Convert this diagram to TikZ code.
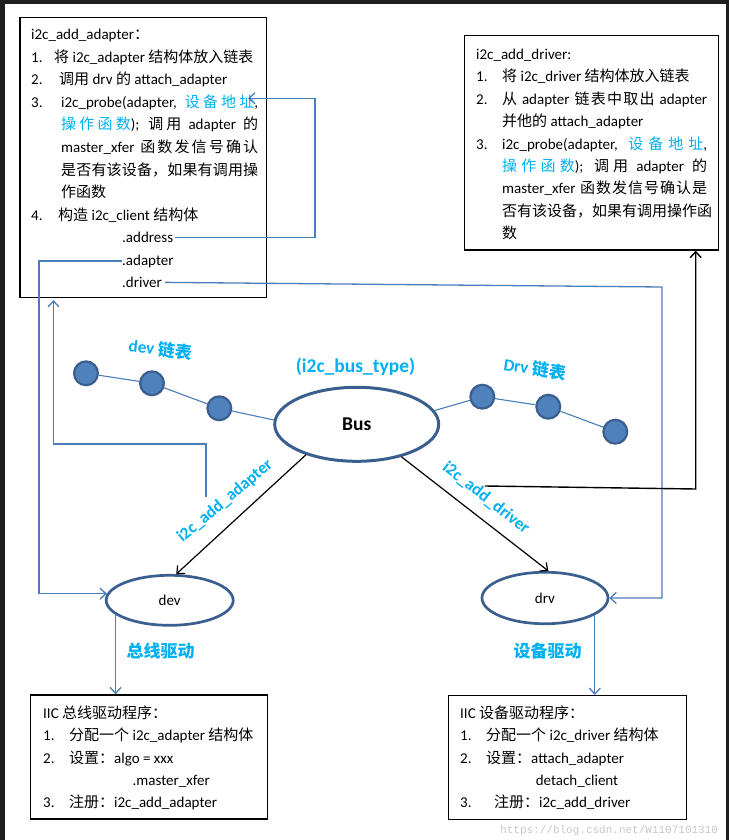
\documentclass[tikz,border=0pt]{standalone}
\usepackage{fontspec}
\setmainfont{Carlito}
\newfontfamily\cjk{Noto Sans CJK SC}
\newfontfamily\wmfont{Liberation Mono}
\usetikzlibrary{shapes.geometric,arrows.meta}
% automatic switch to the CJK font for Chinese characters
\XeTeXinterchartokenstate=1
\newXeTeXintercharclass\cjkc
\makeatletter
\count@="3000 \loop \XeTeXcharclass\count@=\cjkc \ifnum\count@<"303F \advance\count@ 1 \repeat
\count@="4E00 \loop \XeTeXcharclass\count@=\cjkc \ifnum\count@<"9FFF \advance\count@ 1 \repeat
\count@="FF00 \loop \XeTeXcharclass\count@=\cjkc \ifnum\count@<"FFEF \advance\count@ 1 \repeat
\makeatother
\XeTeXinterchartoks 0 \cjkc = {\cjk}
\XeTeXinterchartoks 1 \cjkc = {\cjk}
\XeTeXinterchartoks 2 \cjkc = {\cjk}
\XeTeXinterchartoks 3 \cjkc = {\cjk}
\XeTeXinterchartoks 4095 \cjkc = {\cjk}
\XeTeXinterchartoks \cjkc 0 = {\rmfamily}
\XeTeXinterchartoks \cjkc 1 = {\rmfamily}
\XeTeXinterchartoks \cjkc 2 = {\rmfamily}
\XeTeXinterchartoks \cjkc 3 = {\rmfamily}
\XeTeXinterchartoks \cjkc 4095 = {\rmfamily}
\XeTeXinterchartoks \cjkc \cjkc = {\hskip 0pt plus 0.1em\relax}
\newcommand\nb[2]{\makebox[#1][l]{#2}}
\definecolor{lb}{HTML}{00B0F0}
\definecolor{eline}{HTML}{3A5F8F}
\definecolor{dotf}{HTML}{4F81BD}
\definecolor{cn}{HTML}{4A7EBB}
\definecolor{framec}{HTML}{1F1F21}
\definecolor{wm}{HTML}{C8C8C8}
\tikzset{
 box/.style={draw=black, line width=1.3pt, fill=white, inner sep=0pt},
 ln/.style={anchor=base west, inner sep=0pt, font=\fontsize{15}{18}\selectfont},
 ell/.style={ellipse, draw=eline, fill=white, inner sep=0pt},
 dot/.style={circle, draw=eline, fill=dotf, line width=2.2pt, minimum size=23.8pt, inner sep=0pt},
 lnk/.style={draw=cn, line width=1.1pt},
 lab/.style={text=lb, inner sep=0pt, font=\fontsize{17}{20}\selectfont\bfseries},
 blu/.style={draw=cn, line width=1.3pt, -{Straight Barb[length=6pt,width=11pt]}},
 blk/.style={draw=black, line width=1.2pt, -{Straight Barb[length=6pt,width=11pt]}},
}
\begin{document}
\begin{tikzpicture}[x=1pt,y=-1pt]
\fill[framec] (0,0) rectangle (729,840);
\fill[white] (5,4) rectangle (726,840);
\useasboundingbox (0,0) rectangle (729,840);

% boxes
\node[box, minimum width=246.7pt, minimum height=280.2pt] (ba) at (143.35,157.6) {};
\node[box, minimum width=254.4pt, minimum height=214.3pt] (bd) at (591.5,142.85) {};
\node[box, minimum width=237.1pt, minimum height=124pt] (bl) at (149.25,757) {};
\node[box, minimum width=238.1pt, minimum height=123.6pt] (br) at (567.65,757.5) {};

% top-left box text
\node[ln] (a0) at (31,40) {i2c\_add\_adapter：};
\node[ln] (a1) at (31,62.5) {\nb{23pt}{1.}将 i2c\_adapter 结构体放入链表};
\node[ln] (a2) at (31,85) {\nb{28pt}{2.}调用 drv 的 attach\_adapter};
\node[ln] (a3) at (31,107.5) {\nb{30pt}{3.}\makebox[197pt][s]{i2c\_probe(adapter, \textcolor{lb}{设备地址},}};
\node[ln] (a4) at (61,130) {\makebox[197pt][s]{\textcolor{lb}{操作函数}); 调用 adapter 的}};
\node[ln] (a5) at (61,152.5) {\makebox[197pt][s]{master\_xfer 函数发信号确认}};
\node[ln] (a6) at (61,175) {\makebox[197pt][s]{是否有该设备，如果有调用操}};
\node[ln] (a7) at (61,197.5) {作函数};
\node[ln] (a8) at (31,220) {\nb{27pt}{4.}构造 i2c\_client 结构体};
\node[ln] (addr) at (122,242.5) {.address};
\node[ln] (adap) at (122,265) {.adapter};
\node[ln] (drvf) at (122,287.5) {.driver};

% top-right box text
\node[ln] (r0) at (476,59.5) {i2c\_add\_driver:};
\node[ln] (r1) at (476,81.9) {\nb{26pt}{1.}将 i2c\_driver 结构体放入链表};
\node[ln] (r2) at (476,104.3) {\nb{26pt}{2.}\makebox[205pt][s]{从 adapter 链表中取出 adapter}};
\node[ln] (r3) at (502,126.7) {并他的 attach\_adapter};
\node[ln] (r4) at (476,149.1) {\nb{26pt}{3.}\makebox[205pt][s]{i2c\_probe(adapter, \textcolor{lb}{设备地址},}};
\node[ln] (r5) at (502,171.5) {\makebox[205pt][s]{\textcolor{lb}{操作函数}); 调用 adapter 的}};
\node[ln] (r6) at (502,193.9) {\makebox[205pt][s]{master\_xfer 函数发信号确认是}};
\node[ln] (r7) at (502,216.3) {\makebox[205pt][s]{否有该设备，如果有调用操作函}};
\node[ln] (r8) at (502,238.7) {数};

% bottom-left box text
\node[ln] (p0) at (43,718.5) {IIC 总线驱动程序：};
\node[ln] (p1) at (43,740.8) {\nb{26pt}{1.}分配一个 i2c\_adapter 结构体};
\node[ln] (p2) at (43,763.1) {\nb{26pt}{2.}设置：algo = xxx};
\node[ln] (p3) at (132.5,785.4) {.master\_xfer};
\node[ln] (p4) at (43,807.7) {\nb{26pt}{3.}注册：i2c\_add\_adapter};

% bottom-right box text
\node[ln] (q0) at (460,718.5) {IIC 设备驱动程序：};
\node[ln] (q1) at (460,740.8) {\nb{26pt}{1.}分配一个 i2c\_driver 结构体};
\node[ln] (q2) at (460,763.1) {\nb{26pt}{2.}设置：attach\_adapter};
\node[ln] (q3) at (535.6,785.4) {detach\_client};
\node[ln] (q4) at (460,807.7) {\nb{34pt}{3.}注册：i2c\_add\_driver};

% ellipses
\node[ell, line width=3pt, minimum width=164pt, minimum height=74pt, font=\fontsize{19.5}{22}\selectfont\bfseries] (bus) at (356.7,424.3) {Bus};
\node[ell, line width=2.7pt, minimum width=127pt, minimum height=50pt, font=\fontsize{15}{18}\selectfont] (dev) at (169.7,600.3) {dev};
\node[ell, line width=2.7pt, minimum width=126pt, minimum height=51.5pt, font=\fontsize{15}{18}\selectfont] (drv) at (545,598) {drv};

% list dots
\node[dot] (c1) at (86,373.3) {};
\node[dot] (c2) at (152,383.3) {};
\node[dot] (c3) at (219.3,408.3) {};
\node[dot] (d1) at (482.3,396.7) {};
\node[dot] (d2) at (548.3,406.7) {};
\node[dot] (d3) at (615.3,431.7) {};
\draw[lnk] (c1) -- (c2);
\draw[lnk] (c2) -- (c3);
\draw[lnk] (c3) -- (bus.177);
\draw[lnk] (bus.10) -- (d1);
\draw[lnk] (d1) -- (d2);
\draw[lnk] (d2) -- (d3);

% labels
\node[lab, rotate=-7] (ldev) at (160.5,349) {dev 链表};
\node[lab, rotate=-8.5] (ldrv) at (535,368.5) {Drv 链表};
\node[lab, font=\fontsize{19.5}{22}\selectfont\bfseries] (btype) at (355.5,366.7) {(i2c\_bus\_type)};
\node[lab, rotate=40] (ladd) at (225,501) {i2c\_add\_adapter};
\node[lab, rotate=-38] (ldr) at (486,498) {i2c\_add\_driver};
\node[lab] (zx) at (160.5,650.5) {总线驱动};
\node[lab] (sb) at (547.7,650.7) {设备驱动};

% black arrows from bus
\draw[blk] (bus.211.5) -- (dev.76);
\draw[blk] (bus.324) -- (drv.83);

% blue arrows down to boxes
\draw[blu] (dev.195) -- (dev.195 |- bl.north);
\draw[blu] (drv.341) -- (drv.341 |- br.north);

% connectors
\coordinate (ka2) at (315,98.3);
\coordinate (ta) at (248,98.3);
\draw[blu] ([xshift=2pt]addr.east) -- (addr.east -| ka2) -- (ka2) -- (ta);

\coordinate (kb) at (39,400);
\draw[blu] (adap.west) -| (kb) |- (dev.174.5);

\coordinate (s3) at (206,497);
\coordinate (k3) at (206,444);
\coordinate (t3) at (53.5,300);
\draw[blu] (s3) -- (k3) -| (t3);

\coordinate (k4) at (662,287);
\draw[blu] ([xshift=3pt]drvf.east) -- (k4) |- (drv.east);

\coordinate (s5) at (485,486);
\coordinate (k5) at (695.7,489);
\draw[blk, line width=1.4pt] (s5) -- (k5) -- (k5 |- bd.south);

% watermark
\node[anchor=base west, inner sep=0pt, text=wm, font=\wmfont\fontsize{11}{13}\selectfont] (wmk) at (500,833) {https://blog.csdn.net/W1107101310};
\end{tikzpicture}
\end{document}
